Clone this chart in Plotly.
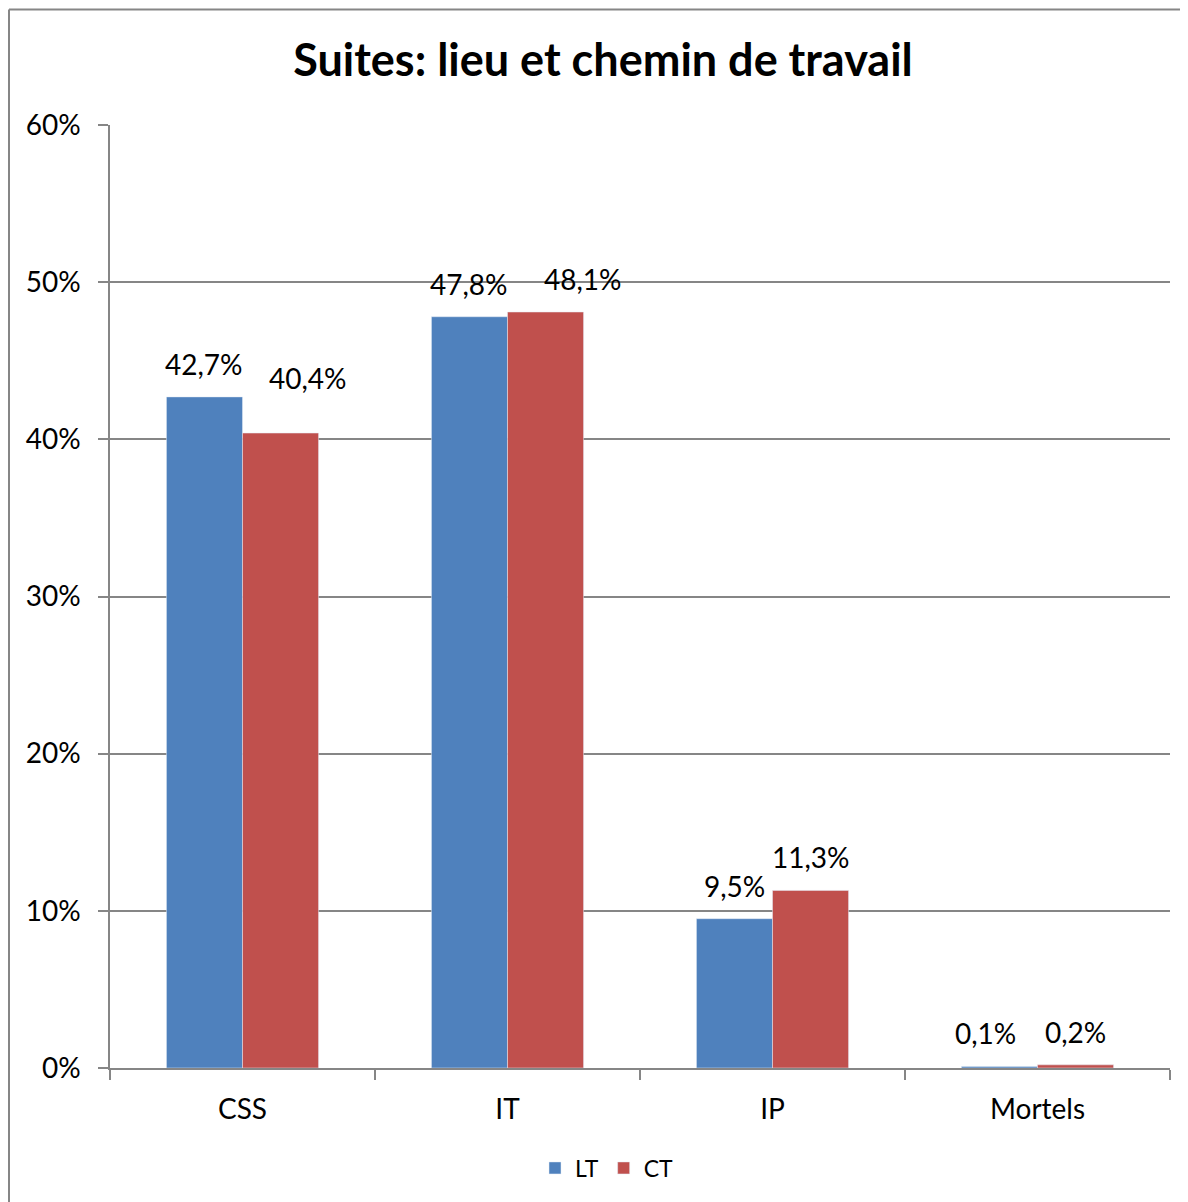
import plotly.graph_objects as go

categories = ["CSS", "IT", "IP", "Mortels"]
lt_values = [0.427, 0.478, 0.095, 0.001]
ct_values = [0.404, 0.481, 0.113, 0.002]
y_ticks = [0, 0.1, 0.2, 0.3, 0.4, 0.5, 0.6]

# manual nudges of the data labels (pixels), as in the original chart
lt_label_dx = [0, 0, 0, -14]
ct_label_dx = [27, 37, 0, 0]
lt_label_dy = [0, 0, 0, 0]
ct_label_dy = [22, 0, 0, 0]

FONT = "Lato, Carlito, Calibri, sans-serif"
GRID = "#868686"
LT_COLOR = "#4F81BD"
CT_COLOR = "#C0504D"

fig = go.Figure()
fig.add_trace(go.Bar(name="LT", x=categories, y=lt_values, marker_color=LT_COLOR))
fig.add_trace(go.Bar(name="CT", x=categories, y=ct_values, marker_color=CT_COLOR))

OFF = 8  # page body margin
W, H = 1188 - OFF, 1202 - OFF
L, R, T, B = 110 - OFF, 18, 125 - OFF, 134
pw, ph = W - L - R, H - T - B

def px_x(x):
    return (x - OFF - L) / pw

def px_y(y):
    return (H - B - (y - OFF)) / ph

cat_w = pw / len(categories)
bar_w = cat_w * (1 - 0.426) / 2
annotations = []
for series, shift, dxs, dys in ((lt_values, -bar_w / 2, lt_label_dx, lt_label_dy),
                                (ct_values, bar_w / 2, ct_label_dx, ct_label_dy)):
    for c, v, dx, dy in zip(categories, series, dxs, dys):
        annotations.append(dict(x=c, y=v, xref="x", yref="y", text=f"{v * 100:.1f}%".replace(".", ","),
                                showarrow=False, xshift=shift + dx, yshift=14 + dy, yanchor="bottom",
                                font=dict(size=28, family=FONT, color="black")))

fig.update_layout(
    width=W, height=H,
    margin=dict(l=L, r=R, t=T, b=B, pad=0),
    paper_bgcolor="white", plot_bgcolor="white",
    separators=", ",
    barmode="group", bargap=0.426, bargroupgap=0,
    font=dict(family=FONT, size=28, color="black"),
    title=dict(text="<b>Suites: lieu et chemin de travail</b>", x=(603 - OFF) / W, xref="container",
               xanchor="center", y=1 - (60 - OFF) / H, yanchor="middle",
               font=dict(size=45, family=FONT, color="black")),
    legend=dict(orientation="h", x=px_x(607), xanchor="center", y=px_y(1168), yanchor="middle",
                font=dict(size=23, family=FONT), itemwidth=30, traceorder="normal"),
    xaxis=dict(showline=True, linecolor=GRID, linewidth=1.5, ticks="outside", tickson="boundaries",
               ticklen=10, tickcolor=GRID, tickwidth=1.5, showgrid=False,
               tickfont=dict(size=28, family=FONT), ticklabelstandoff=16),
    yaxis=dict(range=[0, 0.6], tickvals=y_ticks, tickformat=".0%", showgrid=True, gridcolor=GRID,
               gridwidth=1.5, showline=True, linecolor=GRID, linewidth=1.5, ticks="outside",
               ticklen=10, tickcolor=GRID, tickwidth=1.5, zeroline=False,
               tickfont=dict(size=28, family=FONT), ticklabelstandoff=12),
    annotations=annotations,
    shapes=[
        dict(type="line", xref="paper", yref="paper", x0=px_x(9), x1=px_x(1188), y0=px_y(9.5), y1=px_y(9.5),
             line=dict(color="#868686", width=2)),
        dict(type="line", xref="paper", yref="paper", x0=px_x(9), x1=px_x(9), y0=px_y(9.5), y1=px_y(1202),
             line=dict(color="#868686", width=2)),
    ],
)

fig.write_html("out.html")
